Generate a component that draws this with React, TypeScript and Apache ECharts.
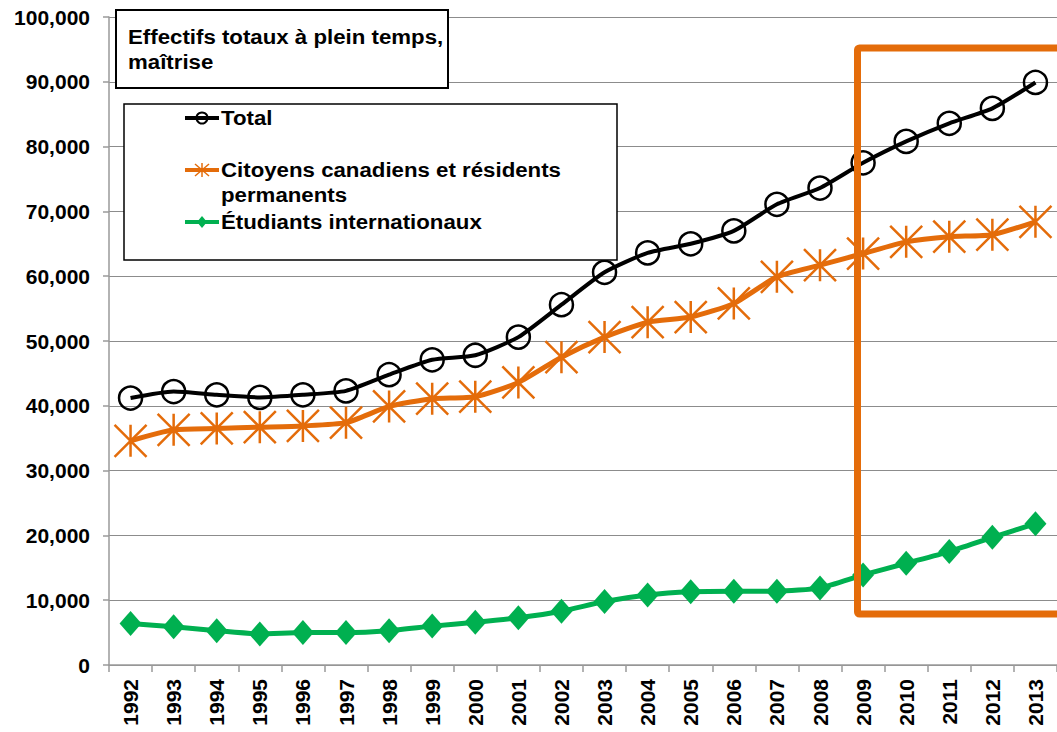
import React, { useEffect, useRef } from "react";
import * as echarts from "echarts";

const years = ["1992","1993","1994","1995","1996","1997","1998","1999","2000","2001","2002","2003","2004","2005","2006","2007","2008","2009","2010","2011","2012","2013"];
const totalValues = [41200,42200,41700,41300,41700,42300,44800,47100,47800,50600,55600,60600,63600,65000,67000,71100,73600,77500,80800,83600,85900,89900];
const citizenValues = [34600,36300,36500,36700,36900,37400,39900,41100,41400,43600,47500,50600,52900,53700,55800,59900,61700,63500,65300,66100,66400,68400];
const intlValues = [6400,5900,5300,4800,5000,5000,5300,6000,6600,7300,8300,9800,10800,11300,11400,11400,11900,13900,15700,17500,19700,21800];
const yTicks = { min: 0, max: 100000, interval: 10000 };

const titleLines = ["Effectifs totaux à plein temps,", "maîtrise"];
const seriesNames = ["Total", "Citoyens canadiens et résidents\npermanents", "Étudiants internationaux"];

const ORANGE = "#E46C0A";
const GREEN = "#00B050";
const FONT = "'Liberation Sans', Arial, sans-serif";
const FS = 21;

export default function App() {
  const ref = useRef<HTMLDivElement>(null);
  useEffect(() => {
    if (!ref.current) return;
    const chart = echarts.init(ref.current, undefined, { renderer: "svg" });
    const txt = (x: number, y: number, text: string) => ({
      type: "text",
      x, y,
      scaleX: 1.06,
      style: { text, font: `bold ${FS}px ${FONT}`, fill: "#000", verticalAlign: "middle", textAlign: "left" },
      z: 101,
    });
    const legendLine = (y: number, color: string) => ({
      type: "line",
      shape: { x1: 185, y1: y, x2: 219, y2: y },
      style: { stroke: color, lineWidth: 4 },
      z: 101,
    });
    chart.setOption({
      animation: false,
      grid: { left: 109, top: 17, right: -6, bottom: 67 },
      xAxis: {
        type: "category",
        data: years,
        boundaryGap: true,
        axisLine: { show: true, lineStyle: { color: "#9a9a9a", width: 1.5 } },
        axisTick: { show: true, length: 7, lineStyle: { color: "#9a9a9a", width: 1.5 } },
        axisLabel: { rotate: 90, margin: 14, fontSize: FS, fontWeight: "bold", color: "#000", fontFamily: FONT },
      },
      yAxis: {
        type: "value",
        min: yTicks.min,
        max: yTicks.max,
        interval: yTicks.interval,
        axisLine: { show: true, lineStyle: { color: "#9a9a9a", width: 1.5 } },
        axisTick: { show: true, length: 6, lineStyle: { color: "#9a9a9a", width: 1.5 } },
        splitLine: { show: true, lineStyle: { color: "#8c8c8c", width: 1.2 } },
        axisLabel: {
          margin: 19,
          fontSize: FS,
          fontWeight: "bold",
          color: "#000",
          fontFamily: FONT,
          formatter: (v: number) => v.toLocaleString("en-US"),
        },
      },
      series: [
        {
          name: seriesNames[0],
          type: "line",
          data: totalValues,
          smooth: 0.2,
          symbol: "circle",
          symbolSize: 23,
          lineStyle: { color: "#000", width: 4 },
          itemStyle: { color: "rgba(0,0,0,0)", borderColor: "#000", borderWidth: 2.5 },
          z: 3,
        },
        {
          name: seriesNames[1],
          type: "line",
          data: citizenValues,
          smooth: 0.2,
          symbol: "path://M16,0L16,32M0,0L32,32M32,0L0,32",
          symbolSize: 32,
          lineStyle: { color: ORANGE, width: 5 },
          itemStyle: { color: ORANGE, borderColor: ORANGE, borderWidth: 2.5 },
          z: 2,
        },
        {
          name: seriesNames[2],
          type: "line",
          data: intlValues,
          smooth: 0.2,
          symbol: "diamond",
          symbolSize: [22, 25],
          lineStyle: { color: GREEN, width: 5 },
          itemStyle: { color: GREEN },
          z: 2,
        },
      ],
      graphic: [
        {
          type: "rect",
          shape: { x: 857.5, y: 48, width: 260, height: 566, r: 2 },
          style: { fill: "none", stroke: ORANGE, lineWidth: 7, lineJoin: "round" },
          z: 90,
        },
        {
          type: "rect",
          shape: { x: 116, y: 10, width: 332, height: 78 },
          style: { fill: "#fff", stroke: "#000", lineWidth: 2 },
          z: 100,
        },
        txt(128, 37, titleLines[0]),
        txt(128, 62, titleLines[1]),
        {
          type: "rect",
          shape: { x: 124, y: 104, width: 493, height: 156 },
          style: { fill: "#fff", stroke: "#000", lineWidth: 1.5 },
          z: 100,
        },
        legendLine(118, "#000"),
        {
          type: "circle",
          shape: { cx: 202, cy: 118, r: 5.5 },
          style: { fill: "none", stroke: "#000", lineWidth: 2 },
          z: 102,
        },
        txt(221, 118, seriesNames[0]),
        legendLine(170, ORANGE),
        {
          type: "polyline",
          shape: { points: [[202, 163], [202, 177]] },
          style: { stroke: ORANGE, lineWidth: 1.5 },
          z: 102,
        },
        {
          type: "polyline",
          shape: { points: [[195, 164], [209, 176]] },
          style: { stroke: ORANGE, lineWidth: 1.5 },
          z: 102,
        },
        {
          type: "polyline",
          shape: { points: [[209, 164], [195, 176]] },
          style: { stroke: ORANGE, lineWidth: 1.5 },
          z: 102,
        },
        txt(221, 170, "Citoyens canadiens et résidents"),
        txt(221, 195, "permanents"),
        legendLine(222, GREEN),
        {
          type: "polygon",
          shape: { points: [[202, 216], [207, 222], [202, 228], [197, 222]] },
          style: { fill: GREEN },
          z: 102,
        },
        txt(221, 222, seriesNames[2]),
      ],
    });
    return () => chart.dispose();
  }, []);
  return (
    <div
      ref={ref}
      style={{ position: "absolute", left: 0, top: 0, width: 1057, height: 732, background: "#fff" }}
    />
  );
}
